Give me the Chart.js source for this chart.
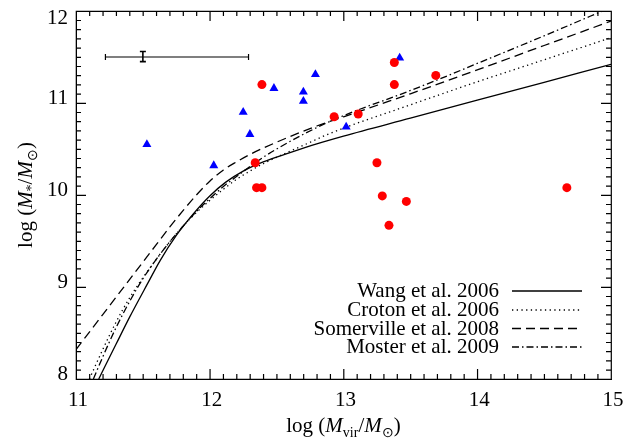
<!DOCTYPE html>
<html>
<head>
<meta charset="utf-8">
<script src="https://cdn.jsdelivr.net/npm/chart.js@4.4.1/dist/chart.umd.min.js"></script>
<style>
    html, body { margin: 0; padding: 0; background: #fff; }
    #wrap { width: 639px; height: 441px; position: relative; }
</style>
</head>
<body>
<div id="wrap"><canvas id="smhm"></canvas></div>
<script>
// ---- data ----
const blueX = [11.53, 12.03, 12.25, 12.30, 12.48, 12.70, 12.70, 12.79, 13.02, 13.42];
const blueY = [10.55, 10.32, 10.90, 10.66, 11.16, 11.12, 11.02, 11.31, 10.74, 11.49];

const redX = [12.39, 12.34, 12.35, 12.39, 12.93, 13.11, 13.38, 13.38, 13.69, 13.25, 13.29, 13.47, 13.34, 14.67];
const redY = [11.20, 10.35, 10.08, 10.08, 10.85, 10.88, 11.44, 11.20, 11.30, 10.35, 9.99, 9.93, 9.67, 10.08];

const wangX = [11.17, 11.30, 11.40, 11.54, 11.63, 11.75, 11.88, 12.00, 12.12, 12.25, 12.40, 12.60, 12.80, 13.00, 13.50, 14.00, 14.50, 15.00];
const wangY = [8.00, 8.38, 8.67, 9.05, 9.29, 9.56, 9.80, 9.99, 10.14, 10.26, 10.36, 10.46, 10.555, 10.64, 10.835, 11.03, 11.225, 11.42];

const crotonX = [11.10, 11.20, 11.30, 11.40, 11.50, 11.60, 11.70, 11.80, 11.90, 12.00, 12.10, 12.20, 12.30, 12.40, 12.50, 12.70, 12.90, 13.50, 14.00, 14.50, 15.00];
const crotonY = [8.00, 8.32, 8.62, 8.88, 9.10, 9.30, 9.49, 9.66, 9.81, 9.94, 10.06, 10.17, 10.26, 10.34, 10.41, 10.54, 10.67, 10.98, 11.23, 11.47, 11.71];

const somervilleX = [11.00, 11.10, 11.20, 11.30, 11.40, 11.50, 11.60, 11.70, 11.80, 11.90, 12.00, 12.10, 12.20, 12.30, 12.40, 12.60, 12.80, 13.00, 13.50, 14.00, 14.50, 15.00];
const somervilleY = [8.32, 8.51, 8.70, 8.89, 9.08, 9.27, 9.46, 9.65, 9.83, 10.00, 10.15, 10.27, 10.36, 10.44, 10.51, 10.635, 10.75, 10.85, 11.10, 11.36, 11.625, 11.89];

const mosterX = [11.13, 11.20, 11.30, 11.40, 11.50, 11.60, 11.70, 11.80, 11.90, 12.00, 12.10, 12.20, 12.30, 12.40, 12.50, 12.70, 12.90, 13.10, 13.40, 13.70, 14.00, 14.50, 15.00];
const mosterY = [8.00, 8.24, 8.56, 8.84, 9.09, 9.30, 9.49, 9.66, 9.82, 9.96, 10.09, 10.20, 10.31, 10.41, 10.50, 10.66, 10.80, 10.92, 11.08, 11.25, 11.43, 11.73, 12.04];

// typical error bar (x low, centre, x high) / (y low, centre, y high)
const errX = [11.22, 11.50, 12.29];
const errY = [11.45, 11.50, 11.56];

const xTickVals = [11, 12, 13, 14, 15];
const yTickVals = [8, 9, 10, 11, 12];

const serif = '"Liberation Serif", "Times New Roman", serif';
const rm = '21px ' + serif;
const it = 'italic 21px ' + serif;
const sub = '14px ' + serif;

function pts(xs, ys) {
    return xs.map((x, i) => ({ x: x, y: ys[i] }));
}

function curve(label, xs, ys, dash) {
    return {
        label: label,
        data: pts(xs, ys),
        showLine: true,
        borderColor: '#000',
        borderWidth: 1.3,
        borderDash: dash,
        pointRadius: 0,
        cubicInterpolationMode: 'monotone',
        clip: 0,
        order: 2
    };
}

// text made of pieces (italic M, subscripts ...) centred on x
function richText(ctx, parts, x, y) {
    let total = 0;
    parts.forEach(p => { ctx.font = p.font; total += ctx.measureText(p.t).width; });
    let cx = x - total / 2;
    parts.forEach(p => {
        ctx.font = p.font;
        ctx.fillText(p.t, cx, y + (p.dy || 0));
        cx += ctx.measureText(p.t).width;
    });
}

const figPlugin = {
    id: 'fig',
    afterDatasetsDraw(chart) {
        const ctx = chart.ctx;
        const a = chart.chartArea;
        const sx = chart.scales.x, sy = chart.scales.y;
        ctx.save();
        ctx.strokeStyle = '#000';
        ctx.fillStyle = '#000';

        // error bar
        const ex0 = sx.getPixelForValue(errX[0]), ex1 = sx.getPixelForValue(errX[1]), ex2 = sx.getPixelForValue(errX[2]);
        const ey0 = sy.getPixelForValue(errY[0]), ey1 = sy.getPixelForValue(errY[1]), ey2 = sy.getPixelForValue(errY[2]);
        ctx.lineWidth = 1.2;
        ctx.beginPath();
        ctx.moveTo(ex0, ey1); ctx.lineTo(ex2, ey1);
        ctx.moveTo(ex0, ey1 - 3); ctx.lineTo(ex0, ey1 + 3);
        ctx.moveTo(ex2, ey1 - 3); ctx.lineTo(ex2, ey1 + 3);
        ctx.stroke();
        ctx.lineWidth = 1.6;
        ctx.beginPath();
        ctx.moveTo(ex1, ey0); ctx.lineTo(ex1, ey2);
        ctx.moveTo(ex1 - 3, ey0); ctx.lineTo(ex1 + 3, ey0);
        ctx.moveTo(ex1 - 3, ey2); ctx.lineTo(ex1 + 3, ey2);
        ctx.stroke();

        // plot box and inward ticks on all four sides
        ctx.lineWidth = 1.2;
        ctx.beginPath();
        ctx.moveTo(a.left + 0.3, a.top + 0.3);
        ctx.lineTo(a.right + 0.3, a.top + 0.3);
        ctx.lineTo(a.right + 0.3, a.bottom + 0.3);
        ctx.lineTo(a.left + 0.3, a.bottom + 0.3);
        ctx.closePath();
        for (let i = 0; i <= 40; i++) {
            const len = i % 10 === 0 ? 10 : 5;
            const px = sx.getPixelForValue(11 + i / 10) + 0.3;
            ctx.moveTo(px, a.bottom); ctx.lineTo(px, a.bottom - len);
            ctx.moveTo(px, a.top); ctx.lineTo(px, a.top + len);
            const py = sy.getPixelForValue(8 + i / 10) + 0.3;
            ctx.moveTo(a.left, py); ctx.lineTo(a.left + len, py);
            ctx.moveTo(a.right, py); ctx.lineTo(a.right - len, py);
        }
        ctx.stroke();

        // legend for the model curves
        const rows = [291, 310, 328.5, 347];
        ctx.font = rm;
        ctx.textAlign = 'right';
        ctx.textBaseline = 'alphabetic';
        chart.data.datasets.filter(d => d.showLine).forEach((d, i) => {
            const y = rows[i];
            ctx.fillText(d.label, 499, y + 6);
            ctx.setLineDash(d.borderDash);
            ctx.lineWidth = 1.3;
            ctx.beginPath();
            ctx.moveTo(512, y); ctx.lineTo(582, y);
            ctx.stroke();
        });
        ctx.restore();
    },
    afterDraw(chart) {
        const ctx = chart.ctx;
        const a = chart.chartArea;
        ctx.save();
        ctx.fillStyle = '#000';
        ctx.textAlign = 'left';
        ctx.textBaseline = 'alphabetic';
        richText(ctx, [
            { t: 'log (', font: rm }, { t: 'M', font: it }, { t: 'vir', font: sub, dy: 5 },
            { t: '/', font: rm }, { t: 'M', font: it }, { t: '\u2299', font: sub, dy: 5 }, { t: ')', font: rm }
        ], (a.left + a.right) / 2, 432);
        ctx.translate(32, (a.top + a.bottom) / 2);
        ctx.rotate(-Math.PI / 2);
        richText(ctx, [
            { t: 'log (', font: rm }, { t: 'M', font: it }, { t: '*', font: sub, dy: 4 },
            { t: '/', font: rm }, { t: 'M', font: it }, { t: '\u2299', font: sub, dy: 5 }, { t: ')', font: rm }
        ], 0, 0);
        ctx.restore();
    }
};

const datasets = [
    curve('Wang et al. 2006', wangX, wangY, []),
    curve('Croton et al. 2006', crotonX, crotonY, [1.3, 3.4]),
    curve('Somerville et al. 2008', somervilleX, somervilleY, [9, 5]),
    curve('Moster et al. 2009', mosterX, mosterY, [7, 3, 1.5, 3]),
    {
        label: 'red', data: pts(redX, redY), pointStyle: 'circle', pointRadius: 4.5,
        backgroundColor: '#ff0000', borderColor: '#ff0000', borderWidth: 0, order: 1
    },
    {
        label: 'blue', data: pts(blueX, blueY), pointStyle: 'triangle', pointRadius: 5.2,
        backgroundColor: '#0000ff', borderColor: '#0000ff', borderWidth: 0, order: 1
    }
];

new Chart(document.getElementById('smhm'), {
    type: 'scatter',
    data: { datasets: datasets },
    options: {
        responsive: true, maintainAspectRatio: false, animation: false, events: [],
        layout: { padding: { top: 11, right: 28, left: 0, bottom: 0 } },
        plugins: { legend: { display: false }, tooltip: { enabled: false } },
        scales: {
            x: {
                type: 'linear', min: 11, max: 15,
                grid: { display: false, drawTicks: false },
                border: { display: true, color: '#000', width: 1 },
                afterBuildTicks: s => { s.ticks = xTickVals.map(v => ({ value: v })); },
                afterFit: s => { s.height = 62; s.paddingLeft = 0; s.paddingRight = 0; },
                ticks: { color: '#000', padding: 9, maxRotation: 0, autoSkip: false, labelOffset: 2, font: { family: serif, size: 21 } }
            },
            y: {
                type: 'linear', min: 8, max: 12,
                grid: { display: false, drawTicks: false },
                border: { display: true, color: '#000', width: 1 },
                afterBuildTicks: s => { s.ticks = yTickVals.map(v => ({ value: v })); },
                afterFit: s => { s.width = 76; s.paddingTop = 0; s.paddingBottom = 0; },
                ticks: {
                    color: '#000', padding: 8, autoSkip: false, labelOffset: -5, font: { family: serif, size: 21 },
                    // the top label sits below its tick in the original
                    callback: v => (v === 12 ? ['', '12'] : String(v))
                }
            }
        }
    },
    plugins: [figPlugin]
});
</script>
</body>
</html>
